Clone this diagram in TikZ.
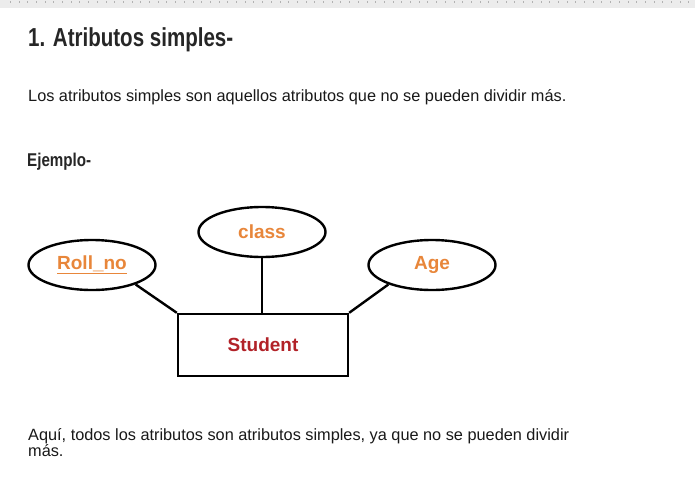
\documentclass[tikz,border=0pt]{standalone}
\usepackage{fontspec}
\setmainfont{Liberation Sans}
\newfontfamily\condbold[FakeStretch=0.79]{Liberation Sans Bold}
\newfontfamily\condboldb[FakeStretch=0.82]{Liberation Sans Bold}
\usetikzlibrary{shapes.geometric}
\definecolor{attrorange}{RGB}{232,134,58}
\definecolor{entred}{RGB}{178,34,40}
\definecolor{bodytext}{RGB}{25,25,25}
\definecolor{rulergray}{RGB}{236,236,236}
\tikzset{
  attr/.style={ellipse, draw=black, line width=2.4pt, minimum width=127pt, minimum height=50pt, inner sep=0pt,
    text=attrorange, font=\fontsize{19}{21}\selectfont\bfseries},
  entity/.style={rectangle, draw=black, line width=2.4pt, minimum width=170pt, minimum height=62pt, inner sep=0pt,
    text=entred, font=\fontsize{19}{21}\selectfont\bfseries},
  link/.style={draw=black, line width=2.4pt},
  plain/.style={anchor=base west, inner sep=0pt, text=bodytext, font=\fontsize{16.3}{17}\selectfont},
}
\begin{document}
\begin{tikzpicture}[x=1pt,y=-1pt]
\useasboundingbox (0,0) rectangle (695,479);
\fill[white] (0,0) rectangle (695,479);
% ruler strip
\fill[rulergray] (0,0) rectangle (695,8);
\foreach \i in {0,...,78} {\draw[gray!60, line width=0.4pt] ({10+\i*8.7},1) -- ({10+\i*8.7},3);}
% texts
\node[anchor=base west, inner sep=0pt, text=black!85, font=\fontsize{26}{28}\condbold] (title) at (28,46) {1. Atributos simples-};
\node[plain] (intro) at (28,101) {Los atributos simples son aquellos atributos que no se pueden dividir más.};
\node[anchor=base west, inner sep=0pt, text=black!85, font=\fontsize{18.5}{20}\condboldb] (ej) at (27,166) {Ejemplo-};
\node[plain] (outro1) at (28,440) {Aquí, todos los atributos son atributos simples, ya que no se pueden dividir};
\node[plain] (outro2) at (28,456) {más.};
% diagram
\node[entity] (student) at (263,345) {Student};
\node[attr] (roll) at (92,265) {\underline{Roll\_no}};
\node[attr] (class) at (262,232) {class};
\node[attr] (age) at (432,265) {Age};
\draw[link] (roll.-24) -- (student.north west);
\draw[link] (class.south) -- (class.south |- student.north);
\draw[link] (age.-156) -- (student.north east);
\end{tikzpicture}
\end{document}
